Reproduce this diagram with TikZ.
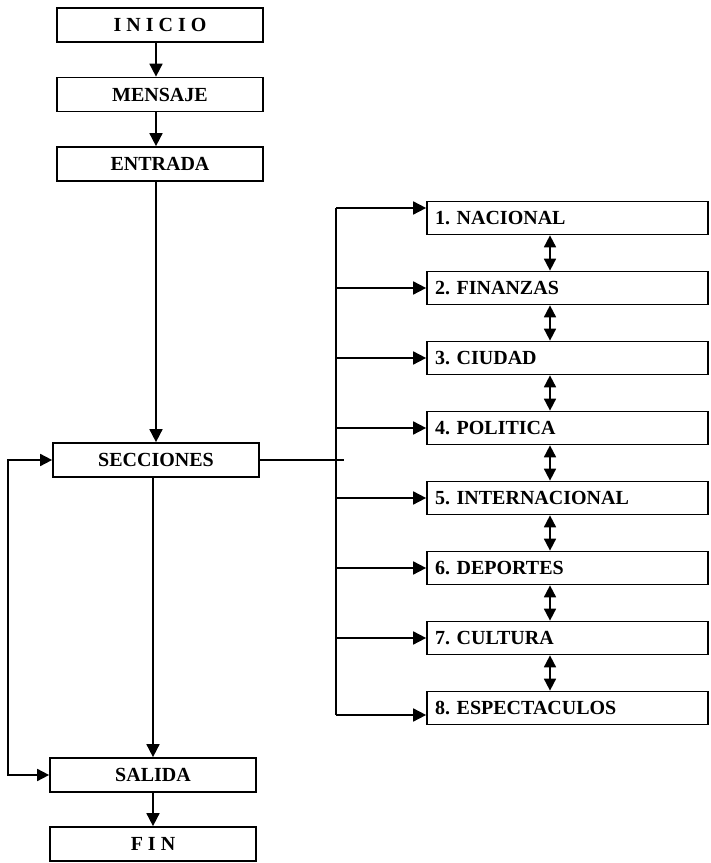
\documentclass[tikz,border=0pt]{standalone}
\usepackage{fontspec}
\setmainfont{Liberation Serif}
\usepackage{tikz}
\usetikzlibrary{arrows.meta}

\begin{document}
\begin{tikzpicture}[x=1pt, y=1pt, line width=1.7pt,
    every node/.style={font=\fontsize{20}{22}\selectfont\bfseries\frenchspacing},
    mainbox/.style={rectangle, draw, minimum width=206pt, minimum height=34pt, inner sep=0pt},
    secbox/.style={rectangle, draw, text width=265pt, align=left, inner xsep=8pt, inner ysep=0pt, minimum height=33pt},
    arr/.style={-{Triangle[length=13pt, width=13pt]}},
    dblarr/.style={{Triangle[length=12pt, width=12pt]}-{Triangle[length=12pt, width=12pt]}}]
    \useasboundingbox (0,0) rectangle (711,863);
    % main column
    \node[mainbox](b0) at (160,838){I N I C I O};
    \node[mainbox, node distance=69.5pt, below of=b0](b1){MENSAJE};
    \node[mainbox, node distance=69.5pt, below of=b1](b2){ENTRADA};
    \node[mainbox](b3) at (156,403){SECCIONES};
    \node[mainbox](b4) at (153,88){SALIDA};
    \node[mainbox, node distance=69pt, below of=b4](b5){F I N};
    % sections
    \node[secbox](s1) at (567.5,645){1. NACIONAL};
    \node[secbox, node distance=70pt, below of=s1](s2){2. FINANZAS};
    \node[secbox, node distance=70pt, below of=s2](s3){3. CIUDAD};
    \node[secbox, node distance=70pt, below of=s3](s4){4. POLITICA};
    \node[secbox, node distance=70pt, below of=s4](s5){5. INTERNACIONAL};
    \node[secbox, node distance=70pt, below of=s5](s6){6. DEPORTES};
    \node[secbox, node distance=70pt, below of=s6](s7){7. CULTURA};
    \node[secbox, node distance=70pt, below of=s7](s8){8. ESPECTACULOS};
    \path[draw, arr](b0.south -| b3)--(b1.north -| b3);
    \path[draw, arr](b1.south -| b3)--(b2.north -| b3);
    \path[draw, arr](b2.south -| b3)--(b3);
    \path[draw, arr](b3.south -| b4)--(b4);
    \path[draw, arr](b4)--(b5);
    % return loop
    \coordinate (lp) at (8,0);
    \path[draw, dblarr](b3.west)--(b3.west -| lp)--(b4.west -| lp)--(b4.west);
    % bus to the sections
    \coordinate (t1) at ([yshift=10pt]s1.west);
    \coordinate (t8) at ([yshift=-7pt]s8.west);
    \coordinate (bt) at (336,0);
    \path[draw](t1 -| bt)--(t8 -| bt);
    \path[draw, arr](t1 -| bt)--(t1);
    \path[draw, arr](t8 -| bt)--(t8);
    \foreach \i in {2,...,7}
        \path[draw, arr](s\i.west -| bt)--(s\i.west);
    \path[draw](b3.east)--([xshift=8pt]b3.east -| bt);
    % links between sections
    \coordinate (dx) at (550,0);
    \foreach \i [evaluate=\i as \j using int(\i+1)] in {1,...,7}
        \path[draw, dblarr](s\i.south -| dx)--(s\j.north -| dx);
\end{tikzpicture}
\end{document}
